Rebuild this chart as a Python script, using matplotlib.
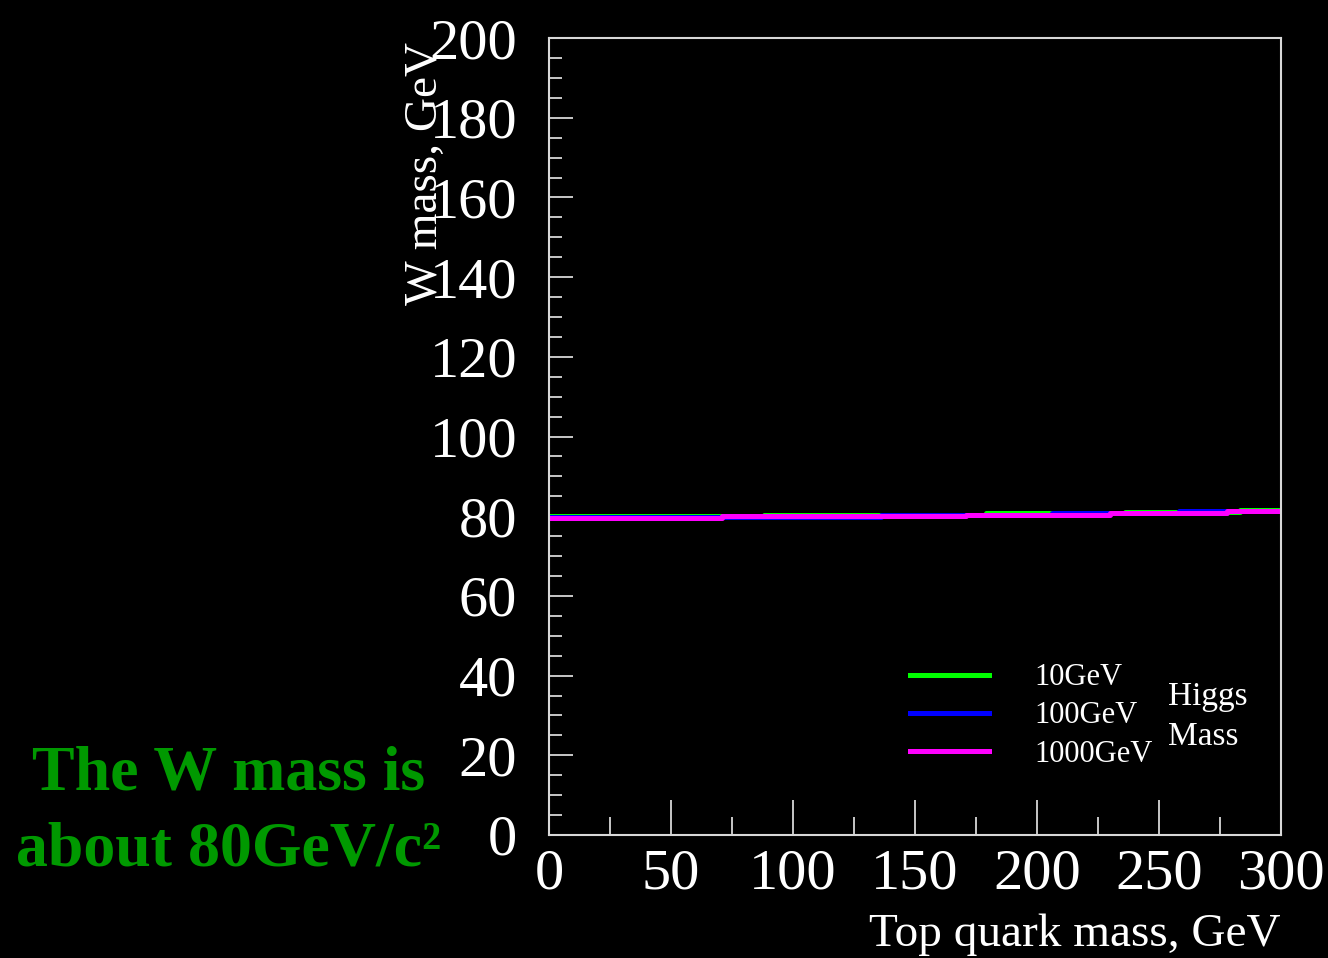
import numpy as np
import matplotlib
matplotlib.use("Agg")
import matplotlib.pyplot as plt

# W mass vs top quark mass for three Higgs masses (stepped)
top_green = [0, 88, 179, 236, 283, 300]
w_green = [80.0, 80.4, 80.75, 81.1, 81.55, 81.55]

top_blue = [0, 136, 206, 258, 300]
w_blue = [79.9, 80.4, 80.8, 81.2, 81.2]

top_magenta = [0, 71, 171, 230, 278, 300]
w_magenta = [79.67, 80.0, 80.38, 80.8, 81.23, 81.23]

labels = ["10GeV", "100GeV", "1000GeV"]
colors = ["#00ff00", "#0000ff", "#ff00ff"]

plt.rcParams['font.family'] = ['Liberation Serif', 'DejaVu Serif']

fig = plt.figure(figsize=(13.28, 9.58), dpi=100, facecolor='black')
ax = fig.add_axes([0.4134, 0.1284, 0.5512, 0.8319])
ax.set_facecolor('black')

ax.plot(top_green, w_green, drawstyle='steps-post', color=colors[0], lw=3.6, label=labels[0])
ax.plot(top_blue, w_blue, drawstyle='steps-post', color=colors[1], lw=3.6, label=labels[1])
ax.plot(top_magenta, w_magenta, drawstyle='steps-post', color=colors[2], lw=3.6, label=labels[2])

ax.set_xlim(0, 300)
ax.set_ylim(0, 200)
ax.set_xticks(np.arange(0, 301, 50))
ax.set_xticks(np.arange(25, 300, 50), minor=True)
ax.set_yticks(np.arange(0, 201, 20))
ax.set_yticks(np.arange(0, 201, 5), minor=True)

for s in ax.spines.values():
    s.set_color('#d8d8d8')
    s.set_linewidth(1.5)
ax.tick_params(axis='both', which='both', direction='in', color='#d8d8d8',
               width=1.3, labelcolor='white', labelsize=42)
ax.tick_params(axis='x', which='major', length=25, pad=10)
ax.tick_params(axis='x', which='minor', length=13)
ax.tick_params(axis='y', which='major', length=17, pad=23)
ax.tick_params(axis='y', which='minor', length=9.5)
ax.tick_params(right=False, top=False)

ax.set_xlabel("Top quark mass, GeV", color='white', fontsize=34)
ax.xaxis.set_label_coords(1.0, -0.098)
ax.xaxis.label.set_horizontalalignment('right')
ax.set_ylabel("W mass, GeV", color='white', fontsize=34)
ax.yaxis.set_label_coords(-0.14, 0.83)

leg = ax.legend(loc='upper left', bbox_to_anchor=(0.455, 0.25), frameon=False,
                fontsize=22, handlelength=2.6, handletextpad=1.5, labelspacing=0.3,
                labelcolor='white')

ax.text(0.845, 0.148, "Higgs\nMass", transform=ax.transAxes, color='white',
        fontsize=24, ha='left', va='center', linespacing=1.4)

fig.text(0.172, 0.152, "The W mass is\nabout 80GeV/c\u00b2", color='#009900',
         fontsize=46, fontweight='bold', ha='center', va='center', linespacing=1.4)

plt.savefig("out.png", facecolor='black')
